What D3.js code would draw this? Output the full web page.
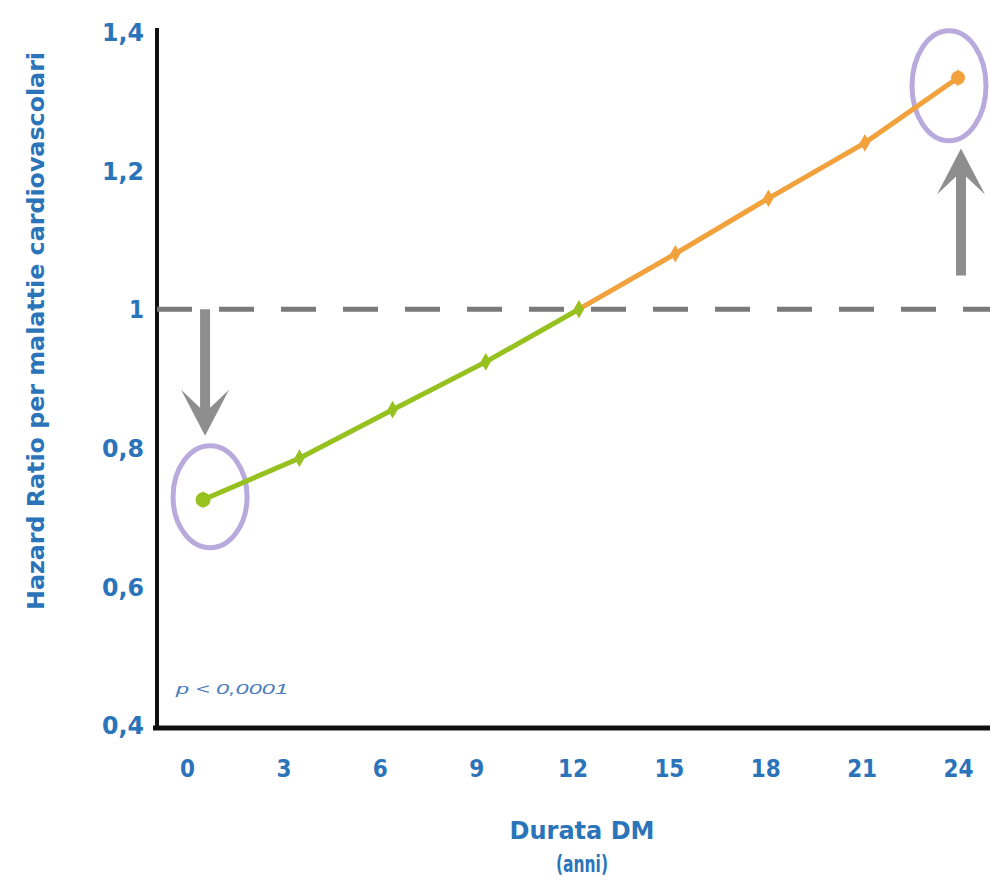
<!DOCTYPE html>
<html><head><meta charset="utf-8">
<script src="https://cdn.jsdelivr.net/npm/d3@7"></script>
<style>body{margin:0;background:#fff} svg{display:block}</style>
</head><body>
<svg id="chart" width="990" height="880"></svg>
<script>
// ---- data ----
const greenYears = [0.5, 3.5, 6.4, 9.3, 12.2];
const greenHR    = [0.725, 0.785, 0.855, 0.924, 1.0];
const orangeYears = [12.2, 15.2, 18.1, 21.1, 24];
const orangeHR    = [1.0, 1.08, 1.16, 1.24, 1.334];
const xTickValues = [0, 3, 6, 9, 12, 15, 18, 21, 24];
const yTickValues = [0.4, 0.6, 0.8, 1, 1.2, 1.4];
const yTickLabels = ["0,4", "0,6", "0,8", "1", "1,2", "1,4"];
const referenceHR = 1;
const yTitle = "Hazard Ratio per malattie cardiovascolari";
const xTitle = ["Durata DM", "(anni)"];
const pText = "p < 0,0001";

// ---- styles ----
const BLUE = "#2b74b9", GREEN = "#96c11f", ORANGE = "#f2a23c",
      PURPLE = "#b9aadd", GREY = "#8e8e8e", DASH = "#7a7a7a";
const FONT = "'DejaVu Sans', 'Liberation Sans', sans-serif";

const svg = d3.select("#chart");
const x = d3.scaleLinear().domain([0, 24]).range([187, 958]);
const y = d3.scaleLinear().domain([0.4, 1.4]).range([725, 32]);

// tick labels via axes
const xAxis = d3.axisBottom(x).tickValues(xTickValues).tickSize(0).tickPadding(0).tickFormat(d => d);
const gx = svg.append("g").attr("transform", "translate(0,777)").call(xAxis);
gx.select(".domain").remove();
gx.selectAll("text").attr("dy", 0).attr("font-family", FONT).attr("font-weight", "bold")
  .attr("font-size", 24).attr("fill", BLUE)
  .attr("textLength", d => String(d).length > 1 ? 30 : 15).attr("lengthAdjust", "spacingAndGlyphs");

const yAxis = d3.axisLeft(y).tickValues(yTickValues).tickSize(0).tickPadding(0)
  .tickFormat((d, i) => yTickLabels[i]);
const gy = svg.append("g").attr("transform", "translate(144,0)").call(yAxis);
gy.select(".domain").remove();
gy.selectAll("text").attr("dy", "0.36em").attr("font-family", FONT).attr("font-weight", "bold")
  .attr("font-size", 24).attr("fill", BLUE)
  .attr("textLength", (d, i) => yTickLabels[i].length > 1 ? 42 : 15).attr("lengthAdjust", "spacingAndGlyphs");

// axis lines
svg.append("line").attr("x1", 157).attr("x2", 157).attr("y1", y(1.4) - 4).attr("y2", y(0.4) + 5)
  .attr("stroke", "#111").attr("stroke-width", 4);
svg.append("line").attr("x1", 153).attr("x2", 990).attr("y1", y(0.4) + 3).attr("y2", y(0.4) + 3)
  .attr("stroke", "#111").attr("stroke-width", 5);

// reference dashed line
svg.append("line").attr("x1", 157).attr("x2", 990).attr("y1", y(referenceHR)).attr("y2", y(referenceHR))
  .attr("stroke", DASH).attr("stroke-width", 5).attr("stroke-dasharray", "35,27");

// arrows
function arrowPath(len) { // pointing down, tip at (0,0), shaft length len
  return `M-5,${-len} L-5,-28 L-24,-46 L0,0 L24,-46 L5,-28 L5,${-len} Z`;
}
const first = {x: x(greenYears[0]), y: y(greenHR[0])};
const last = {x: x(orangeYears[orangeYears.length - 1]), y: y(orangeHR[orangeHR.length - 1])};
svg.append("path").attr("d", arrowPath(y(0.8) - 12 - y(referenceHR)))
  .attr("transform", `translate(${first.x + 2},${y(0.8) - 12})`).attr("fill", GREY);
svg.append("path").attr("d", arrowPath(127))
  .attr("transform", `translate(${last.x + 3},${y(1.2) - 22}) rotate(180)`).attr("fill", GREY);

// highlight ellipses
svg.append("ellipse").attr("cx", first.x + 7).attr("cy", first.y - 3).attr("rx", 37).attr("ry", 51)
  .attr("fill", "none").attr("stroke", PURPLE).attr("stroke-width", 5);
svg.append("ellipse").attr("cx", last.x - 9).attr("cy", last.y + 8).attr("rx", 37).attr("ry", 55)
  .attr("fill", "none").attr("stroke", PURPLE).attr("stroke-width", 5);

// series
const line = d3.line().x(d => x(d[0])).y(d => y(d[1]));
function drawSeries(xs, ys, color) {
  const pts = xs.map((v, i) => [v, ys[i]]);
  svg.append("path").datum(pts).attr("d", line).attr("fill", "none")
    .attr("stroke", color).attr("stroke-width", 5).attr("stroke-linecap", "round");
  svg.selectAll(null).data(pts).enter().append("path")
    .attr("d", d3.symbol(d3.symbolDiamond, 90))
    .attr("transform", d => `translate(${x(d[0])},${y(d[1])})`).attr("fill", color);
}
drawSeries(orangeYears, orangeHR, ORANGE);
drawSeries(greenYears, greenHR, GREEN);
svg.append("circle").attr("cx", first.x).attr("cy", first.y).attr("r", 7.5).attr("fill", GREEN);
svg.append("circle").attr("cx", last.x).attr("cy", last.y).attr("r", 7).attr("fill", ORANGE);

// p value
svg.append("text").attr("x", 176).attr("y", 694).text(pText)
  .attr("font-family", "'Liberation Sans', sans-serif").attr("font-style", "italic")
  .attr("font-size", 15).attr("fill", "#4a7cc0").attr("textLength", 112).attr("lengthAdjust", "spacingAndGlyphs");

// titles
svg.append("text").attr("transform", "translate(44,331) rotate(-90)").attr("text-anchor", "middle")
  .attr("font-family", FONT).attr("font-weight", "bold").attr("font-size", 23).attr("fill", BLUE)
  .attr("textLength", 558).attr("lengthAdjust", "spacingAndGlyphs").text(yTitle);
svg.append("text").attr("x", 582).attr("y", 839).attr("text-anchor", "middle")
  .attr("font-family", FONT).attr("font-weight", "bold").attr("font-size", 25).attr("fill", BLUE)
  .attr("textLength", 145).attr("lengthAdjust", "spacingAndGlyphs").text(xTitle[0]);
svg.append("text").attr("x", 582).attr("y", 872).attr("text-anchor", "middle")
  .attr("font-family", FONT).attr("font-weight", "bold").attr("font-size", 23).attr("fill", BLUE)
  .attr("textLength", 52).attr("lengthAdjust", "spacingAndGlyphs").text(xTitle[1]);
</script>
</body></html>
